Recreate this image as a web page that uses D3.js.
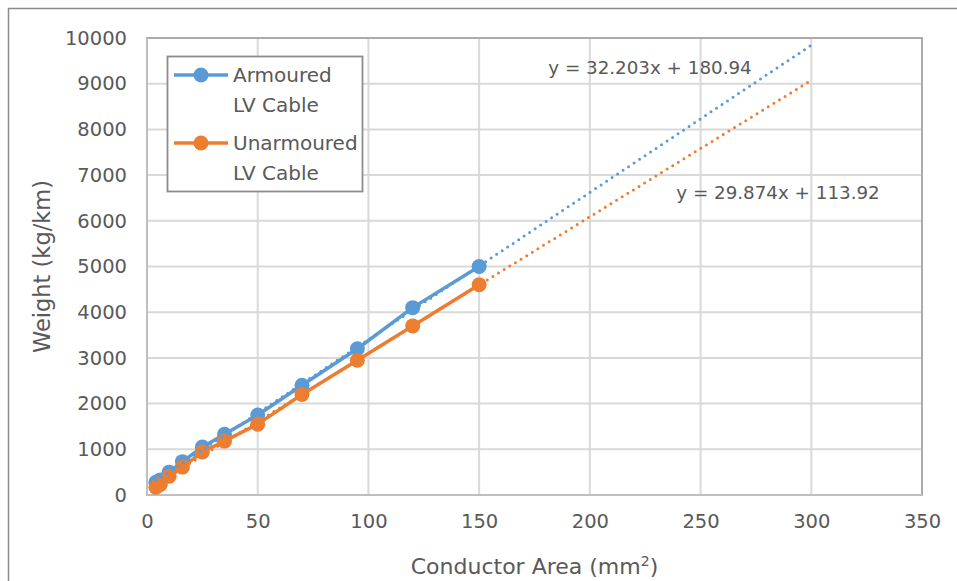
<!DOCTYPE html>
<html>
<head>
<meta charset="utf-8">
<script src="https://cdn.jsdelivr.net/npm/d3@7"></script>
<style>
  html, body { margin: 0; padding: 0; background: #fff; overflow: hidden; }
  svg { display: block; font-family: "DejaVu Sans", sans-serif; }
</style>
</head>
<body>
<svg id="chart" width="957" height="581"></svg>
<script>
// Cable sizes (mm²) and weights (kg/km)
const conductorArea = [4, 6, 10, 16, 25, 35, 50, 70, 95, 120, 150];
const armouredWeight = [280, 330, 500, 730, 1050, 1330, 1750, 2400, 3200, 4100, 5000];
const unarmouredWeight = [170, 230, 410, 610, 940, 1180, 1550, 2200, 2950, 3700, 4600];

// Linear trendlines (slope, intercept) and forecast end
const trendSlopes = [32.203, 29.874];
const trendIntercepts = [180.94, 113.92];
const trendEndX = 300;

const xTicks = [0, 50, 100, 150, 200, 250, 300, 350];
const yTicks = [0, 1000, 2000, 3000, 4000, 5000, 6000, 7000, 8000, 9000, 10000];

const seriesNames = [["Armoured", "LV Cable"], ["Unarmoured", "LV Cable"]];
const seriesColors = ["#5b9bd5", "#ed7d31"];

const svg = d3.select("#chart");
const plot = { left: 147, right: 922, top: 38, bottom: 495 };

const x = d3.scaleLinear().domain([0, 350]).range([plot.left, plot.right]);
const y = d3.scaleLinear().domain([0, 10000]).range([plot.bottom, plot.top]);

// Outer chart frame
svg.append("rect")
  .attr("x", 8.5).attr("y", 8.5).attr("width", 1200).attr("height", 1200)
  .attr("fill", "#fff").attr("stroke", "#8c8c8c").attr("stroke-width", 1.5);

// Gridlines
const grid = svg.append("g");
grid.selectAll("line.h").data(yTicks).join("line")
  .attr("x1", plot.left).attr("x2", plot.right)
  .attr("y1", d => y(d)).attr("y2", d => y(d))
  .attr("stroke", "#d9d9d9").attr("stroke-width", 2);
grid.selectAll("line.v").data(xTicks).join("line")
  .attr("y1", plot.top).attr("y2", plot.bottom)
  .attr("x1", d => x(d)).attr("x2", d => x(d))
  .attr("stroke", "#d9d9d9").attr("stroke-width", 2);

// Plot area border
svg.append("rect")
  .attr("x", plot.left).attr("y", plot.top)
  .attr("width", plot.right - plot.left).attr("height", plot.bottom - plot.top)
  .attr("fill", "none").attr("stroke", "#a6a6a6").attr("stroke-width", 1.8);
svg.append("line")
  .attr("x1", plot.left).attr("x2", plot.left).attr("y1", plot.top).attr("y2", plot.bottom)
  .attr("stroke", "#bfbfbf").attr("stroke-width", 2);
svg.append("line")
  .attr("x1", plot.left).attr("x2", plot.right).attr("y1", plot.bottom).attr("y2", plot.bottom)
  .attr("stroke", "#bfbfbf").attr("stroke-width", 2);

// Axes (labels only)
const yAxis = svg.append("g")
  .attr("transform", `translate(${plot.left},0)`)
  .call(d3.axisLeft(y).tickValues(yTicks).tickSize(0).tickPadding(20).tickFormat(d3.format("d")));
const xAxis = svg.append("g")
  .attr("transform", `translate(0,${plot.bottom})`)
  .call(d3.axisBottom(x).tickValues(xTicks).tickSize(0).tickPadding(19).tickFormat(d3.format("d")));
[yAxis, xAxis].forEach(a => {
  a.select(".domain").remove();
  a.selectAll("text")
    .attr("fill", "#595959")
    .style("font-size", "19.5px")
    .style("font-family", "'DejaVu Sans', sans-serif");
});

// Axis titles
svg.append("text")
  .attr("transform", `translate(50,${(plot.top + plot.bottom) / 2}) rotate(-90)`)
  .attr("text-anchor", "middle")
  .attr("fill", "#595959")
  .style("font-size", "22.5px")
  .text("Weight (kg/km)");

const xt = svg.append("text")
  .attr("x", (plot.left + plot.right) / 2).attr("y", 574)
  .attr("text-anchor", "middle")
  .attr("fill", "#595959")
  .style("font-size", "22px");
xt.append("tspan").text("Conductor Area (mm");
xt.append("tspan").attr("dy", "-8").style("font-size", "14px").text("2");
xt.append("tspan").attr("dy", "8").text(")");

// Series lines and markers
const seriesValues = [armouredWeight, unarmouredWeight];
const line = d3.line().x(d => x(d[0])).y(d => y(d[1]));

seriesValues.forEach((vals, i) => {
  const pts = conductorArea.map((a, j) => [a, vals[j]]);
  svg.append("path")
    .datum(pts)
    .attr("d", line)
    .attr("fill", "none")
    .attr("stroke", seriesColors[i])
    .attr("stroke-width", 3.5)
    .attr("stroke-linejoin", "round");
  svg.append("g").selectAll("circle").data(pts).join("circle")
    .attr("cx", d => x(d[0])).attr("cy", d => y(d[1]))
    .attr("r", 7.5)
    .attr("fill", seriesColors[i]);
});

// Dotted linear trendlines, forecast forward to x = 300
trendSlopes.forEach((m, i) => {
  const x0 = d3.min(conductorArea);
  const pts = [[x0, m * x0 + trendIntercepts[i]], [trendEndX, m * trendEndX + trendIntercepts[i]]];
  svg.append("path")
    .datum(pts)
    .attr("d", line)
    .attr("fill", "none")
    .attr("stroke", seriesColors[i])
    .attr("stroke-width", 3)
    .attr("stroke-linecap", "round")
    .attr("stroke-dasharray", "0 6.6");
});

// Trendline equations
const eqPos = [[650, 68], [778, 193]];
trendSlopes.forEach((m, i) => {
  svg.append("text")
    .attr("x", eqPos[i][0]).attr("y", eqPos[i][1])
    .attr("dy", "0.35em")
    .attr("text-anchor", "middle")
    .attr("fill", "#595959")
    .style("font-size", "18.3px")
    .text(`y = ${m.toFixed(3)}x + ${trendIntercepts[i].toFixed(2)}`);
});

// Legend
const legend = svg.append("g");
legend.append("rect")
  .attr("x", 167.5).attr("y", 56.5).attr("width", 195).attr("height", 135)
  .attr("fill", "#fff").attr("stroke", "#8c8c8c").attr("stroke-width", 1.8);
const legendRows = [75, 143];
seriesNames.forEach((name, i) => {
  const cy = legendRows[i];
  legend.append("line")
    .attr("x1", 174).attr("x2", 228).attr("y1", cy).attr("y2", cy)
    .attr("stroke", seriesColors[i]).attr("stroke-width", 3.5);
  legend.append("circle")
    .attr("cx", 201).attr("cy", cy).attr("r", 7.5).attr("fill", seriesColors[i]);
  name.forEach((t, k) => {
    legend.append("text")
      .attr("x", 233).attr("y", cy + k * 29.5)
      .attr("dy", "0.35em")
      .attr("fill", "#595959")
      .style("font-size", "20px")
      .text(t);
  });
});
</script>
</body>
</html>
